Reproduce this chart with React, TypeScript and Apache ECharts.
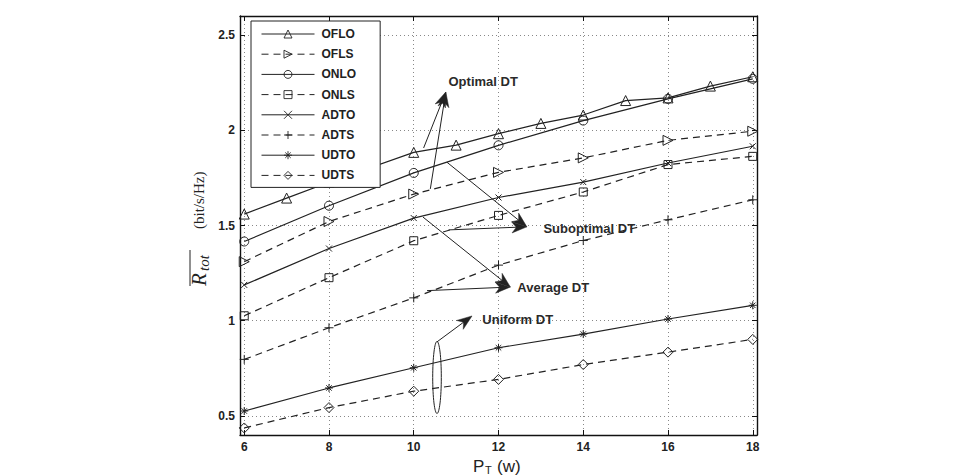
import React, { useEffect, useRef } from "react";
import * as echarts from "echarts";

// ---- data ----
const X_TICKS = [6, 8, 10, 12, 14, 16, 18];
const Y_TICKS = [0.5, 1, 1.5, 2, 2.5];
const PT = [6, 8, 10, 12, 14, 16, 18];
const PT_OFLO = [6, 7, 8, 10, 11, 12, 13, 14, 15, 16, 17, 18];

const OFLO = [1.56, 1.644, 1.727, 1.884, 1.922, 1.982, 2.036, 2.08, 2.156, 2.17, 2.232, 2.281];
const OFLS = [1.31, 1.521, 1.665, 1.779, 1.855, 1.947, 1.995];
const ONLO = [1.416, 1.604, 1.776, 1.921, 2.051, 2.165, 2.27];
const ONLS = [1.026, 1.226, 1.42, 1.553, 1.676, 1.82, 1.863];
const ADTO = [1.188, 1.379, 1.539, 1.647, 1.728, 1.828, 1.916];
const ADTS = [0.797, 0.963, 1.12, 1.292, 1.421, 1.53, 1.635];
const UDTO = [0.526, 0.647, 0.753, 0.858, 0.93, 1.009, 1.081];
const UDTS = [0.437, 0.544, 0.63, 0.692, 0.77, 0.835, 0.902];

const SERIES_NAMES = ["OFLO", "OFLS", "ONLO", "ONLS", "ADTO", "ADTS", "UDTO", "UDTS"];

// annotation labels (data coordinates)
const LABELS = [
  { text: "Optimal DT", x: 10.82, y: 2.257 },
  { text: "Suboptimal DT", x: 13.06, y: 1.483 },
  { text: "Average DT", x: 12.445, y: 1.177 },
  { text: "Uniform DT", x: 11.619, y: 1.009 },
];
// arrows: [from, to] in data coordinates
const ARROWS = [
  [[10.233, 1.907], [10.757, 2.201]],
  [[10.391, 1.692], [10.757, 2.201]],
  [[10.785, 1.832], [12.669, 1.493]],
  [[10.823, 1.477], [12.669, 1.493]],
  [[10.219, 1.544], [12.28, 1.177]],
  [[10.313, 1.158], [12.28, 1.177]],
  [[10.549, 0.889], [11.375, 1.025]],
];
const ELLIPSE = { x: 10.549, y: 0.702 };

const SANS = "'Liberation Sans', Arial, Helvetica, sans-serif";
const SERIF = "'Liberation Serif', 'Times New Roman', serif";
const INK = "#222";

const X_PATH = "path://M0,0L10,10M10,0L0,10";
const PLUS_PATH = "path://M5,0L5,10M0,5L10,5";
const STAR_PATH = "path://M5,0L5,10M0,5L10,5M1.6,1.6L8.4,8.4M8.4,1.6L1.6,8.4";

function arrowHead(tip: number[], from: number[], len = 15, half = 5.5, notch = 4.5) {
  const dx = tip[0] - from[0];
  const dy = tip[1] - from[1];
  const L = Math.hypot(dx, dy);
  const ux = dx / L, uy = dy / L;
  const px = -uy, py = ux;
  const bx = tip[0] - ux * len, by = tip[1] - uy * len;
  return [
    [tip[0], tip[1]],
    [bx + px * half, by + py * half],
    [tip[0] - ux * (len - notch), tip[1] - uy * (len - notch)],
    [bx - px * half, by - py * half],
  ];
}

export default function App() {
  const ref = useRef<HTMLDivElement>(null);

  useEffect(() => {
    document.body.style.margin = "0";
    if (!ref.current) return;
    const chart = echarts.init(ref.current, undefined, { renderer: "svg" });

    const mk = (
      name: string,
      xs: number[],
      ys: number[],
      symbol: string,
      size: number,
      dashed: boolean,
      rotate = 0
    ) => ({
      type: "line",
      name,
      data: xs.map((x, i) => [x, ys[i]]),
      symbol,
      symbolSize: size,
      symbolRotate: rotate,
      showAllSymbol: true,
      lineStyle: { color: INK, width: 1.2, type: dashed ? [7, 5] : "solid" },
      itemStyle: { color: "rgba(255,255,255,0)", borderColor: INK, borderWidth: 1 },
      emphasis: { disabled: true },
      z: 3,
    });

    const axisCommon = {
      type: "value",
      axisLine: { show: true, onZero: false, lineStyle: { color: "#111", width: 1.4 } },
      axisTick: { show: true, inside: true, length: 5, lineStyle: { color: "#111", width: 1 } },
    };

    chart.setOption({
      animation: false,
      backgroundColor: "#fff",
      grid: { left: 240, right: 201, top: 16, bottom: 41, containLabel: false },
      xAxis: [
        {
          ...axisCommon,
          min: 5.9,
          max: 18.1,
          position: "bottom",
          axisTick: { ...axisCommon.axisTick, customValues: X_TICKS },
          axisLabel: {
            customValues: X_TICKS,
            fontFamily: SANS,
            fontWeight: "bold",
            fontSize: 12,
            color: INK,
            margin: 6,
          },
          splitLine: { show: true, lineStyle: { color: "#888", width: 1, type: [1, 3] } },
        },
        {
          ...axisCommon,
          min: 5.9,
          max: 18.1,
          position: "top",
          axisTick: { ...axisCommon.axisTick, customValues: X_TICKS },
          axisLabel: { show: false },
          splitLine: { show: false },
        },
      ],
      yAxis: [
        {
          ...axisCommon,
          min: 0.4,
          max: 2.6,
          position: "left",
          axisTick: { ...axisCommon.axisTick, customValues: Y_TICKS },
          axisLabel: {
            customValues: Y_TICKS,
            fontFamily: SANS,
            fontWeight: "bold",
            fontSize: 12,
            color: INK,
            margin: 5,
          },
          splitLine: { show: true, lineStyle: { color: "#888", width: 1, type: [1, 3] } },
        },
        {
          ...axisCommon,
          min: 0.4,
          max: 2.6,
          position: "right",
          axisTick: { ...axisCommon.axisTick, customValues: Y_TICKS },
          axisLabel: { show: false },
          splitLine: { show: false },
        },
      ],
      legend: {
        data: SERIES_NAMES,
        orient: "vertical",
        left: 251,
        top: 21,
        itemWidth: 53,
        itemHeight: 10,
        itemGap: 8.2,
        padding: [7, 24, 6, 10],
        backgroundColor: "#fff",
        borderColor: INK,
        borderWidth: 1,
        borderRadius: 0,
        selectedMode: false,
        itemStyle: { borderWidth: 0.9 },
        lineStyle: { width: 1 },
        textStyle: {
          fontFamily: SANS,
          fontWeight: "bold",
          fontSize: 12,
          color: INK,
          lineHeight: 10,
          padding: [0, 0, 0, 2],
        },
        z: 10,
      },
      series: [
        mk("OFLO", PT_OFLO, OFLO, "triangle", 10, false),
        mk("OFLS", PT, OFLS, "triangle", 10, true, -90),
        mk("ONLO", PT, ONLO, "circle", 9, false),
        mk("ONLS", PT, ONLS, "rect", 8, true),
        mk("ADTO", PT, ADTO, X_PATH, 6, false),
        mk("ADTS", PT, ADTS, PLUS_PATH, 9, true),
        mk("UDTO", PT, UDTO, STAR_PATH, 8, false),
        mk("UDTS", PT, UDTS, "diamond", 10, true),
      ],
    });

    const toPx = (p: number[]) => chart.convertToPixel({ gridIndex: 0 }, p) as number[];

    const graphics: any[] = [];
    ARROWS.forEach(([from, to]) => {
      const a = toPx(from);
      const b = toPx(to);
      const dx = b[0] - a[0], dy = b[1] - a[1];
      const L = Math.hypot(dx, dy);
      const end = [b[0] - (dx / L) * 8, b[1] - (dy / L) * 8];
      graphics.push({
        type: "line",
        shape: { x1: a[0], y1: a[1], x2: end[0], y2: end[1] },
        style: { stroke: INK, lineWidth: 1 },
        z: 20,
      });
      graphics.push({
        type: "polygon",
        shape: { points: arrowHead(b, a) },
        style: { fill: INK, stroke: INK, lineWidth: 0.5 },
        z: 20,
      });
    });
    const ec = toPx([ELLIPSE.x, ELLIPSE.y]);
    graphics.push({
      type: "ellipse",
      shape: { cx: ec[0], cy: ec[1], rx: 4.3, ry: 36 },
      style: { fill: "none", stroke: INK, lineWidth: 1 },
      z: 20,
    });
    LABELS.forEach((l) => {
      const p = toPx([l.x, l.y]);
      graphics.push({
        type: "text",
        x: p[0],
        y: p[1],
        style: {
          text: l.text,
          fontFamily: SANS,
          fontWeight: "bold",
          fontSize: 13,
          fill: "#2a2a2a",
          align: "left",
          verticalAlign: "middle",
        },
        z: 20,
      });
    });

    // x-axis title: P_T (w)
    graphics.push(
      {
        type: "text",
        x: 473,
        y: 466,
        style: { text: "P", fontFamily: SANS, fontSize: 17, fill: INK, align: "left", verticalAlign: "middle" },
      },
      {
        type: "text",
        x: 485,
        y: 470,
        style: { text: "T", fontFamily: SANS, fontSize: 11, fill: INK, align: "left", verticalAlign: "middle" },
      },
      {
        type: "text",
        x: 497,
        y: 466,
        style: { text: "(w)", fontFamily: SANS, fontSize: 17, fill: INK, align: "left", verticalAlign: "middle" },
      }
    );

    // y-axis title: overline R_tot (bit/s/Hz), rotated
    graphics.push({
      type: "group",
      x: 199,
      y: 286,
      rotation: Math.PI / 2,
      children: [
        {
          type: "text",
          x: 0,
          y: 0,
          style: { text: "R", fontFamily: SERIF, fontStyle: "italic", fontSize: 21, fill: INK, align: "left", verticalAlign: "middle" },
        },
        {
          type: "text",
          x: 15,
          y: 5,
          style: { text: "tot", fontFamily: SERIF, fontStyle: "italic", fontSize: 15, fill: INK, align: "left", verticalAlign: "middle" },
        },
        {
          type: "line",
          shape: { x1: 0, y1: -9, x2: 36, y2: -9 },
          style: { stroke: INK, lineWidth: 1 },
        },
        {
          type: "text",
          x: 57,
          y: 0,
          style: { text: "(bit/s/Hz)", fontFamily: SERIF, fontSize: 15, fill: INK, align: "left", verticalAlign: "middle" },
        },
      ],
    });

    chart.setOption({ graphic: graphics });

    return () => chart.dispose();
  }, []);

  return <div ref={ref} style={{ width: 958, height: 476 }} />;
}
